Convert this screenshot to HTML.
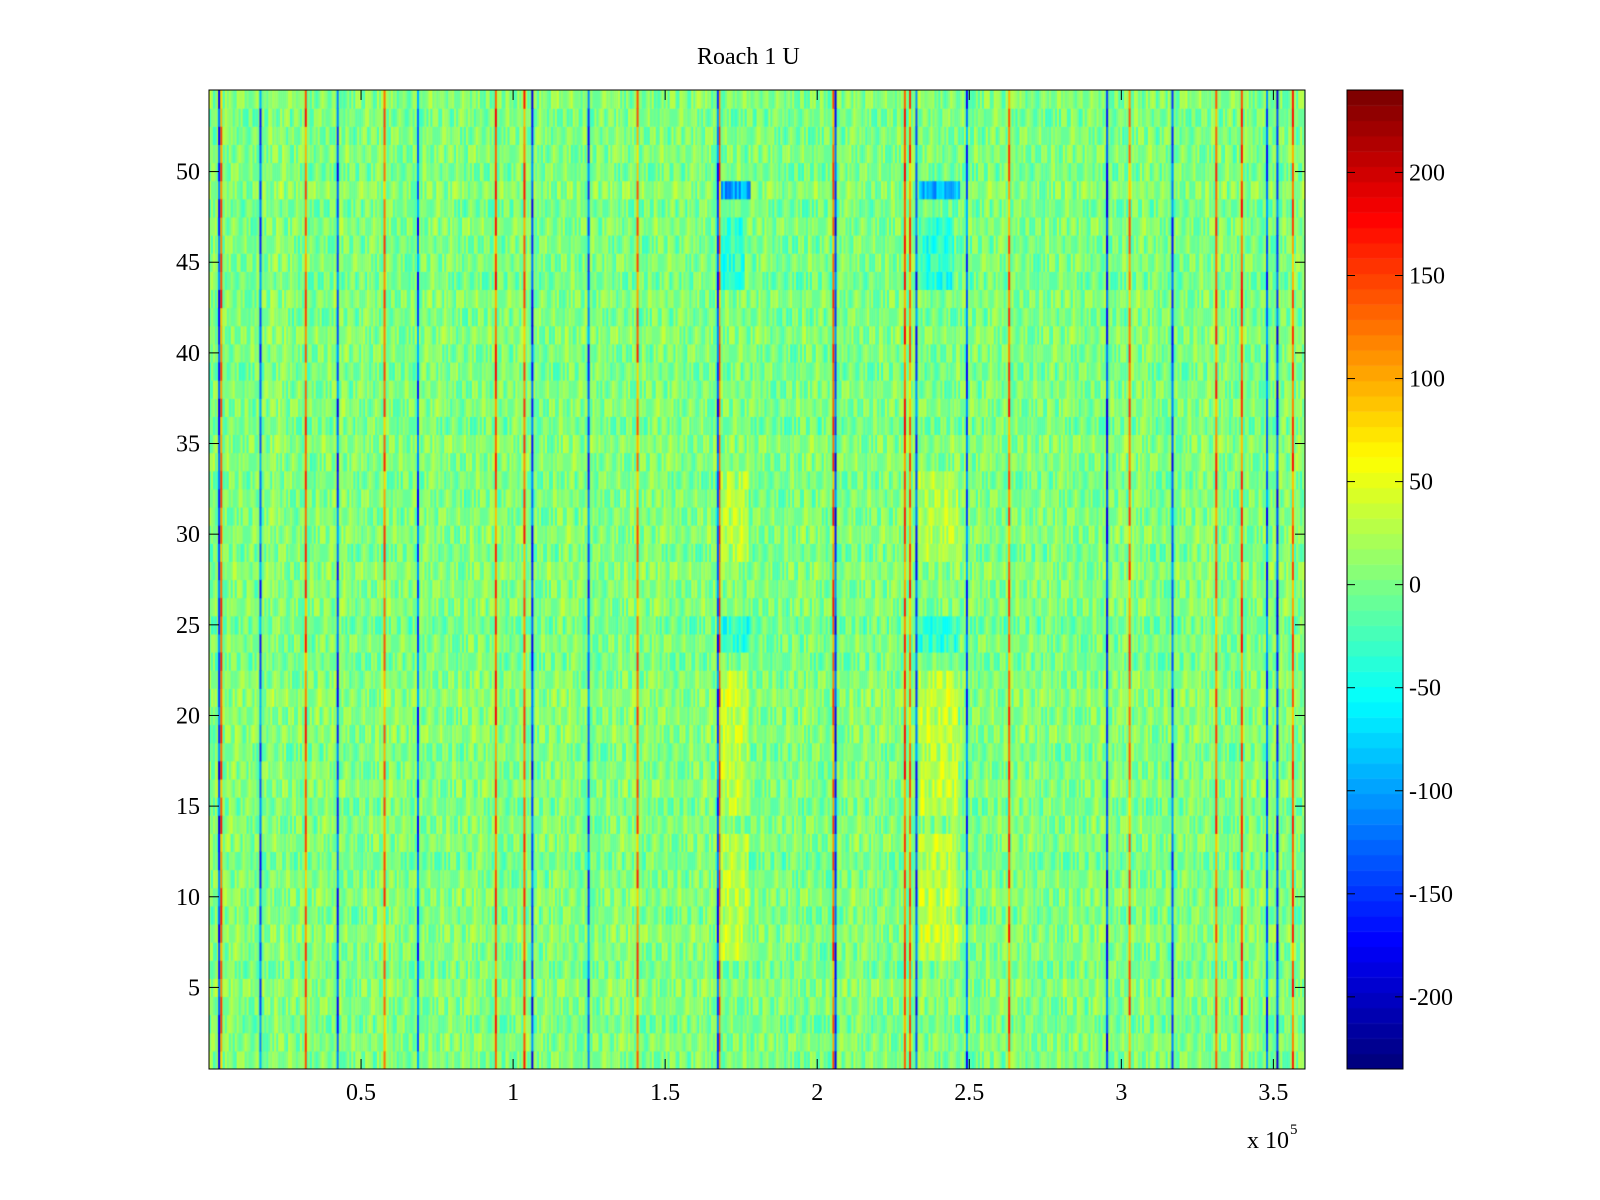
<!DOCTYPE html>
<html><head><meta charset="utf-8"><style>
body{margin:0;background:#fff;width:1600px;height:1200px;overflow:hidden;font-family:"Liberation Serif",serif}
.t{position:absolute;font-size:24px;color:#000;white-space:nowrap}
</style></head><body>
<div style="position:relative;width:1600px;height:1200px">
<div class="t" style="left:697px;top:44px">Roach 1 U</div>
<canvas id="hm" width="1096" height="979" style="position:absolute;left:209px;top:90px"></canvas>
<canvas id="cb" width="56" height="979" style="position:absolute;left:1347px;top:90px"></canvas>
<svg id="ax" width="1600" height="1200" style="position:absolute;left:0;top:0"></svg>
</div>
<script>
const xTicks=[0.5,1,1.5,2,2.5,3,3.5];
const yTicks=[5,10,15,20,25,30,35,40,45,50];
const cbTicks=[-200,-150,-100,-50,0,50,100,150,200];
const colBase=[2,4,0,2,6,1,-1,3,5,0,2,4,1,0,3,2,1,4,2,0,3,1,2,5,1,0,2,3,1,4,2,1,3,0,2,-1,1,-2,0,2,-1,1,3,0,2,1,4,0,1,2,0,3,1,2,-1,1,2,0,3,1,2,4,0,1,2,3,1,0,2,1,3,2];
const rowOffset=[0,3,-4,2,5,-3,1,6,-2,4,0,-5,3,2,-3,4,1,-2,5,3,6,2,-4,1,-6,3,2,5,-3,4,1,0,-2,3,5,-4,2,1,-3,0,4,-2,3,-5,1,-2,2,-4,6,-3,2,0,-2,3];
const texture=[-22,14,-8,27,3,-30,18,-12,9,25,-17,5,-26,20,-4,12,-19,28,-9,2,16,-24,7,-14,22,-6,11,-28,19,-2,8,-15,24,-11,4,-21,13,-3,17,-27,10,-7,21,-16,6,26,-20,1,15,-10,23,-25,-1];
const stripesX=[3700,31500,57400,94000,103400,140600,167500,205000,228500,230200,262800,295000,302400,330900,339300,356100,3000,16600,42000,68400,106000,124500,167000,205700,232300,248900,295000,316500,347600,351000];
const stripesV=[150,150,140,160,150,140,150,150,160,140,150,150,140,150,160,150,-170,-150,-160,-150,-170,-150,-160,-170,-160,-150,-170,-160,-150,-170];
const regX0=[168000,233000,168000,233000,168000,233000,168000,233000,168000,233000,168000,233000];
const regX1=[177000,246000,177000,246000,177000,246000,176000,245000,178000,247000,178000,247000];
const regY0=[7,7,15,15,29,29,44,44,49,49,24,24];
const regY1=[13,13,22,22,33,33,47,47,49,49,25,25];
const regV=[28,28,28,28,25,25,-35,-35,-100,-100,-35,-35];
const X0=209,X1=1305,Y0=90,Y1=1069,XMAX=360400,YMIN=0.5,YMAX=54.5,CMIN=-235,CMAX=240;
const sx=v=>X0+v/XMAX*(X1-X0), sy=v=>Y1-(v-YMIN)/(YMAX-YMIN)*(Y1-Y0);
function jet(t){t=Math.max(0,Math.min(1,t));t=Math.floor(t*63.999)/63;
 const f=x=>Math.max(0,Math.min(1,1.5-Math.abs(4*t-x)));
 return `rgb(${Math.round(255*f(3))},${Math.round(255*f(2))},${Math.round(255*f(1))})`;}
const cm=v=>jet((v-CMIN)/(CMAX-CMIN));
const hm=document.getElementById('hm').getContext('2d');
const W=650,nc=Math.ceil(XMAX/W);
for(let c=0;c<nc;c++){const xv=c*W;
 for(let r=1;r<=54;r++){
  const tx=texture[(c*11+r*17+Math.floor(c/3)*5)%texture.length];
  let v=colBase[Math.floor(xv/5000)%colBase.length]+rowOffset[r-1]+tx;
  for(let k=0;k<regX0.length;k++) if(xv>=regX0[k]&&xv<regX1[k]&&r>=regY0[k]&&r<=regY1[k]) v+=regV[k];
  hm.fillStyle=cm(v);
  const x=sx(xv)-X0,y=sy(r+0.5)-Y0;
  hm.fillRect(x,y,sx(xv+W)-sx(xv)+0.6,sy(r-0.5)-sy(r+0.5)+0.6);
 }}
for(let k=0;k<stripesX.length;k++){
 for(let r=1;r<=54;r++){
  const v=stripesV[k]*0.85+texture[(r*5+k*3)%texture.length]*1.5;
  hm.fillStyle=cm(v);
  hm.fillRect(sx(stripesX[k])-X0,sy(r+0.5)-Y0,2,sy(r-0.5)-sy(r+0.5)+0.6);
 }}
const cb=document.getElementById('cb').getContext('2d');
for(let i=0;i<64;i++){cb.fillStyle=jet(i/63);const h=979/64;cb.fillRect(0,979-(i+1)*h,56,h+0.5);}
const svg=document.getElementById('ax');const NS='http://www.w3.org/2000/svg';
function el(tag,at,txt){const e=document.createElementNS(NS,tag);for(const k in at)e.setAttribute(k,at[k]);if(txt!==undefined)e.textContent=txt;svg.appendChild(e);return e;}
let e=el('rect',{x:X0,y:Y0,width:X1-X0,height:Y1-Y0,fill:'none',stroke:'#000','stroke-width':1});


e=el('rect',{x:1347,y:Y0,width:56,height:Y1-Y0,fill:'none',stroke:'#000','stroke-width':1});


const F='Liberation Serif,serif';
xTicks.forEach(t=>{const x=sx(t*1e5);
 el('line',{x1:x,x2:x,y1:Y1,y2:Y1-10,stroke:'#000'});el('line',{x1:x,x2:x,y1:Y0,y2:Y0+10,stroke:'#000'});
 e=el('text',{x:x,y:1100,'text-anchor':'middle','font-size':24,'font-family':F},String(t));
 
 });
yTicks.forEach(t=>{const y=sy(t);
 el('line',{x1:X0,x2:X0+10,y1:y,y2:y,stroke:'#000'});el('line',{x1:X1,x2:X1-10,y1:y,y2:y,stroke:'#000'});
 e=el('text',{x:200,y:y+8,'text-anchor':'end','font-size':24,'font-family':F},String(t));
 
 });
cbTicks.forEach(t=>{const y=Y1-(t-CMIN)/(CMAX-CMIN)*(Y1-Y0);
 el('line',{x1:1347,x2:1355,y1:y,y2:y,stroke:'#000'});el('line',{x1:1403,x2:1395,y1:y,y2:y,stroke:'#000'});
 e=el('text',{x:1409,y:y+8,'font-size':24,'font-family':F},String(t));
 
 });
e=el('text',{x:1247,y:1148,'font-size':24,'font-family':F},'x 10');


el('text',{x:1290,y:1134,'font-size':15,'font-family':F},'5');
</script>
</body></html>
